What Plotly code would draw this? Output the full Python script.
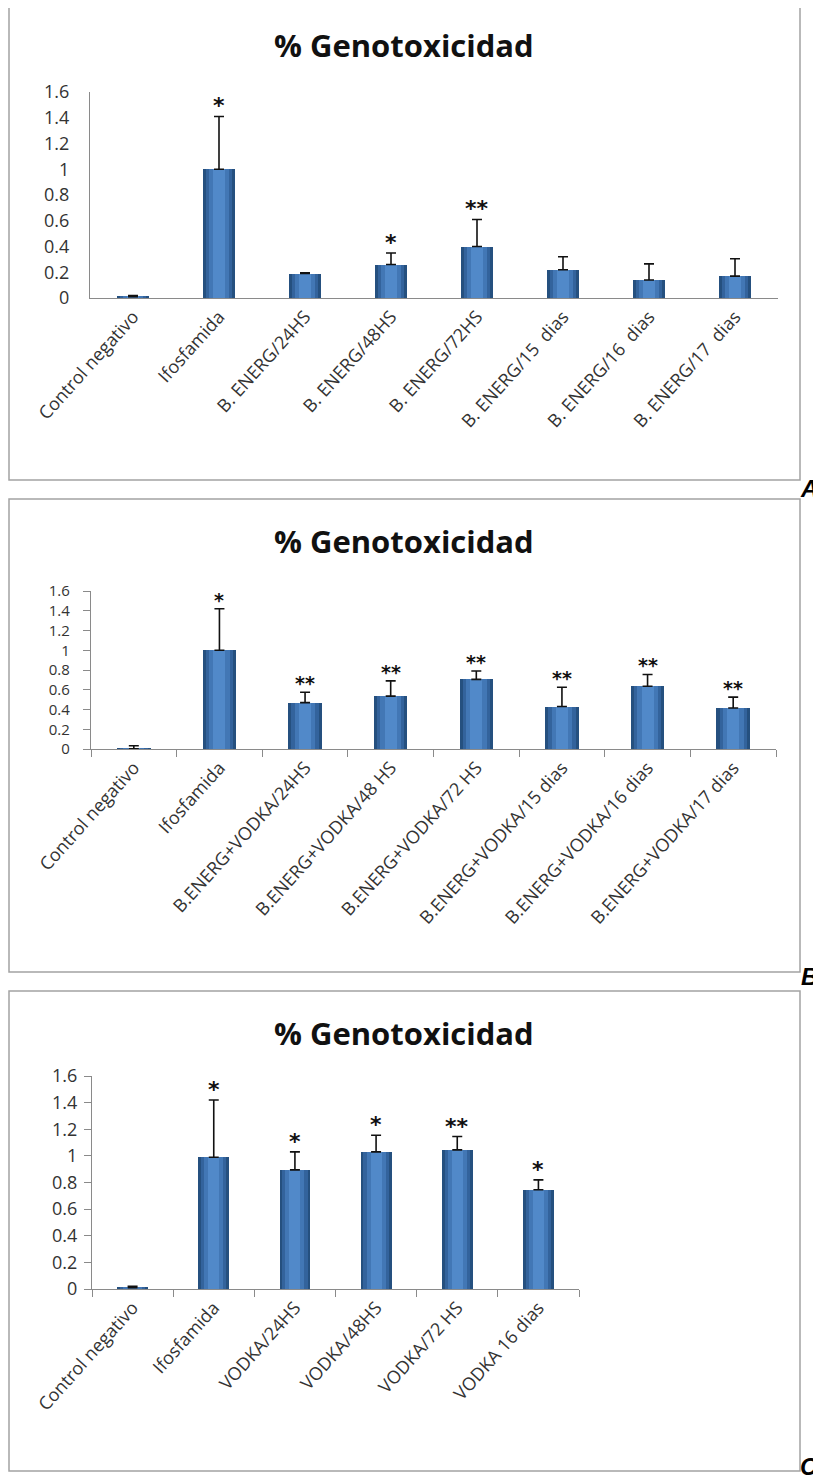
import plotly.graph_objects as go

W, H = 821, 1479
OFF = 8  # page body margin that the browser adds around the figure

# ---------------- data ----------------
title_text = "% Genotoxicidad"

cats_a = ["Control negativo", "Ifosfamida", "B. ENERG/24HS", "B. ENERG/48HS", "B. ENERG/72HS",
          "B. ENERG/15\u00a0 dias", "B. ENERG/16\u00a0 dias", "B. ENERG/17\u00a0 dias"]
vals_a = [0.01, 1.00, 0.19, 0.26, 0.40, 0.22, 0.14, 0.17]
errs_a = [0.01, 0.41, 0.005, 0.09, 0.21, 0.10, 0.125, 0.135]
stars_a = ["", "*", "", "*", "**", "", "", ""]

cats_b = ["Control negativo", "Ifosfamida", "B.ENERG+VODKA/24HS", "B.ENERG+VODKA/48 HS",
          "B.ENERG+VODKA/72 HS", "B.ENERG+VODKA/15 dias", "B.ENERG+VODKA/16 dias",
          "B.ENERG+VODKA/17 dias"]
vals_b = [0.003, 1.00, 0.47, 0.535, 0.705, 0.43, 0.635, 0.415]
errs_b = [0.03, 0.42, 0.105, 0.155, 0.085, 0.195, 0.12, 0.11]
stars_b = ["", "*", "**", "**", "**", "**", "**", "**"]

cats_c = ["Control negativo", "Ifosfamida", "VODKA/24HS", "VODKA/48HS", "VODKA/72 HS", "VODKA 16 dias"]
vals_c = [0.01, 0.99, 0.895, 1.03, 1.045, 0.745]
errs_c = [0.01, 0.43, 0.135, 0.125, 0.10, 0.075]
stars_c = ["", "*", "*", "*", "**", "*"]

panel_letters = ["A", "B", "C"]

# ---------------- layout geometry (window pixels) ----------------
panels = [
    dict(cats=cats_a, vals=vals_a, errs=errs_a, stars=stars_a,
         box=(9, 5, 800, 480), plot=(90, 92, 778, 298), title_y=45, ticks=False,
         barw=0.37, letter_y=488, star_font=22, standoff=16, ysize=18),
    dict(cats=cats_b, vals=vals_b, errs=errs_b, stars=stars_b,
         box=(9, 499, 800, 972), plot=(91, 591, 776, 749), title_y=541, ticks=True,
         barw=0.39, letter_y=976, star_font=19, standoff=10, ysize=15),
    dict(cats=cats_c, vals=vals_c, errs=errs_c, stars=stars_c,
         box=(9, 991, 800, 1471), plot=(92, 1076, 579, 1289), title_y=1033, ticks=True,
         barw=0.38, letter_y=1466, star_font=22, standoff=3, ysize=18),
]

def px(x):
    return (x - OFF) / W

def py(y):
    return 1 - (y - OFF) / H

fig = go.Figure()
layers = [(1.0, "#25507f"), (0.82, "#33639c"), (0.62, "#4277b5"), (0.36, "#5189c9")]
shapes = []
annotations = []
xtick_font = dict(family="'Open Sans', Lato, sans-serif", size=18, color="#333333")

for i, p in enumerate(panels):
    sfx = "" if i == 0 else str(i + 1)
    xa, ya = "x" + sfx, "y" + sfx
    for frac, col in layers:
        fig.add_trace(go.Bar(x=p["cats"], y=p["vals"], width=p["barw"] * frac,
                             marker=dict(color=col, line=dict(width=0)),
                             xaxis=xa, yaxis=ya, showlegend=False, hoverinfo="skip"))
    fig.add_trace(go.Scatter(x=p["cats"], y=p["vals"], mode="markers",
                             marker=dict(size=1, color="rgba(0,0,0,0)"),
                             error_y=dict(type="data", array=p["errs"],
                                          arrayminus=[0] * len(p["errs"]), symmetric=False,
                                          color="#111111", thickness=1.6, width=5),
                             xaxis=xa, yaxis=ya, showlegend=False, hoverinfo="skip"))
    x0, y0, x1, y1 = p["plot"]
    ticks = "outside" if p["ticks"] else ""
    fig.update_layout(**{
        "xaxis" + sfx: dict(domain=[px(x0), px(x1)], anchor=ya, type="category",
                            tickangle=-48, tickfont=xtick_font, showline=True,
                            linecolor="#8a8a8a", linewidth=1.3, ticks=ticks,
                            tickson="boundaries", ticklen=7, tickcolor="#8a8a8a",
                            showgrid=False, zeroline=False, fixedrange=True,
                            automargin=False),
        "yaxis" + sfx: dict(domain=[py(y1), py(y0)], anchor=xa, range=[0, 1.6],
                            dtick=0.2, tick0=0,
                            tickfont=dict(family="'Open Sans', Lato, sans-serif",
                                          size=p["ysize"], color="#333333"),
                            showline=True, linecolor="#8a8a8a", linewidth=1.3,
                            ticks=ticks, ticklen=7, tickcolor="#8a8a8a", showgrid=False,
                            zeroline=False, fixedrange=True, automargin=False,
                            ticklabelstandoff=p["standoff"]),
    })
    bx0, by0, bx1, by1 = p["box"]
    shapes.append(dict(type="rect", xref="paper", yref="paper", x0=px(bx0), x1=px(bx1),
                       y0=py(by1), y1=py(by0), line=dict(color="#a3a3a3", width=1.5)))
    annotations.append(dict(text="<b>" + title_text + "</b>", xref="paper", yref="paper",
                            x=px(404), y=py(p["title_y"]), xanchor="center", yanchor="middle",
                            showarrow=False,
                            font=dict(family="'Open Sans', Lato, sans-serif", size=31,
                                      color="#111111")))
    annotations.append(dict(text="<b><i>" + panel_letters[i] + "</i></b>", xref="paper",
                            yref="paper", x=px(820), y=py(p["letter_y"]), xanchor="right",
                            yanchor="middle", showarrow=False,
                            font=dict(family="Liberation Sans, Arial, sans-serif", size=24,
                                      color="#000000")))
    for c, v, e, s in zip(p["cats"], p["vals"], p["errs"], p["stars"]):
        if s:
            annotations.append(dict(text="<b>" + s + "</b>", x=c, y=v + e, xref=xa, yref=ya,
                                    xanchor="center", yanchor="bottom", yshift=-4,
                                    showarrow=False,
                                    font=dict(family="DejaVu Sans, sans-serif",
                                              size=p["star_font"], color="#111111")))

fig.update_layout(width=W, height=H, margin=dict(l=0, r=0, t=0, b=0),
                  paper_bgcolor="white", plot_bgcolor="white", barmode="overlay",
                  bargap=0, shapes=shapes, annotations=annotations)

fig.write_html("out.html")
